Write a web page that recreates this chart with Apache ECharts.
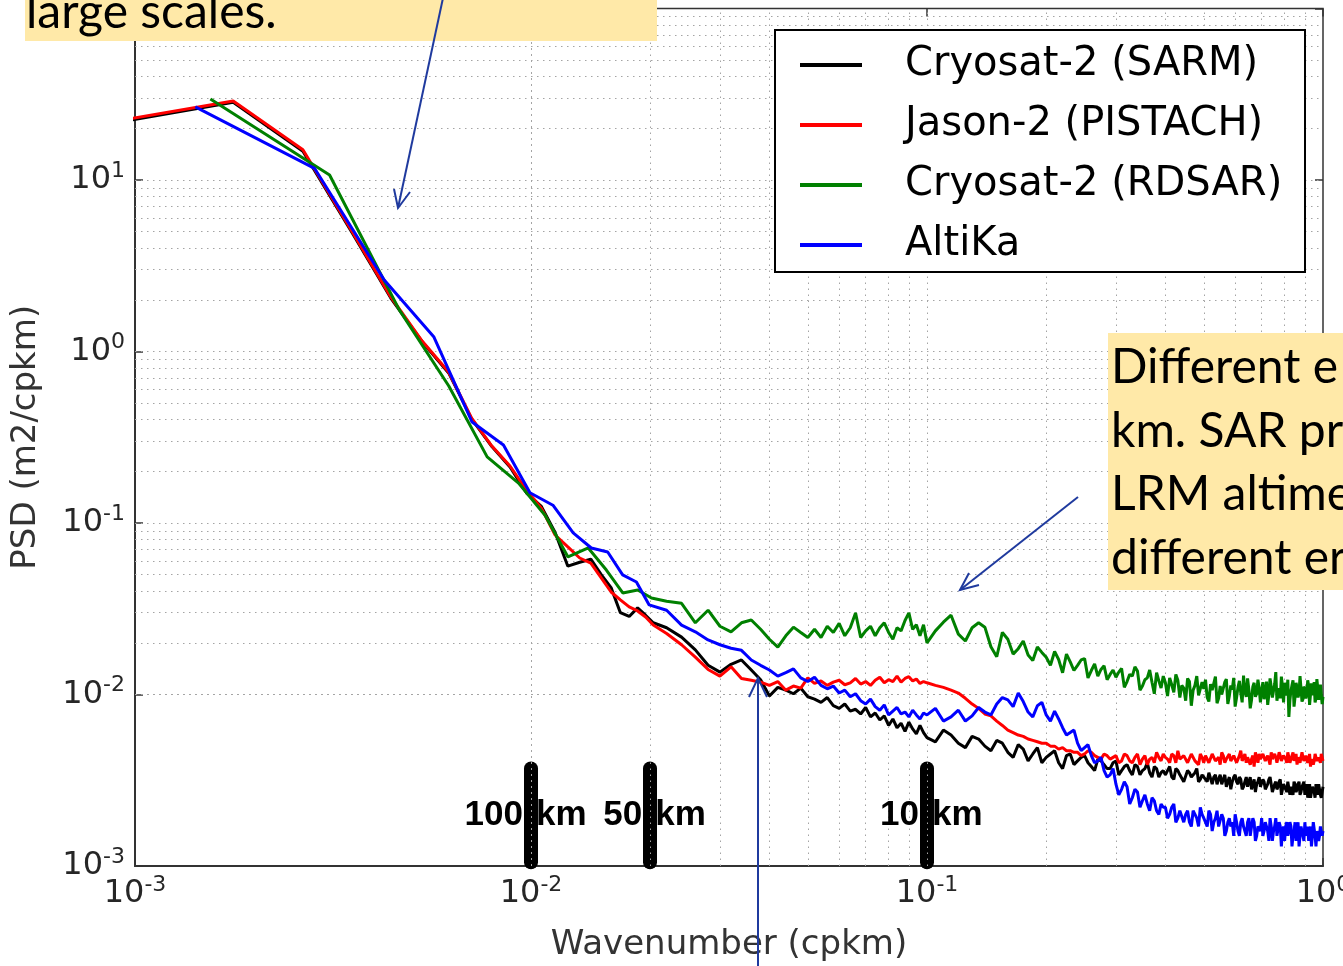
<!DOCTYPE html>
<html><head><meta charset="utf-8">
<script src="https://cdn.jsdelivr.net/npm/echarts@6/dist/echarts.min.js"></script>
<style>html,body{margin:0;padding:0;background:#fff}#c{width:1343px;height:966px}</style>
</head><body><div id="c"></div>
<script>
// ---------------- data ----------------
const seriesNames = ['Cryosat-2 (SARM)', 'Jason-2 (PISTACH)', 'Cryosat-2 (RDSAR)', 'AltiKa'];
const seriesColors = ['#000000', '#ff0000', '#008000', '#0000ff'];

// low-wavenumber spectral estimates (cpkm, m2/cpkm)
const sarmLowK = [0.000885,0.00177,0.002655,0.00354,0.004425,0.00531,0.006195,0.00708,0.007965,0.00885,0.009735,0.01062,0.011505,0.01239,0.013275,0.01416,0.015045,0.01593,0.016815,0.0177,0.018585,0.01947,0.020355];
const sarmLowPsd = [21.5,28.4,14.7,4.90,2.05,1.14,0.75,0.405,0.279,0.212,0.150,0.125,0.088,0.056,0.059,0.0615,0.050,0.042,0.030,0.0285,0.032,0.029,0.0262];
const jasonLowK = [0.000885,0.00177,0.002655,0.00354,0.004425,0.00531,0.006195,0.00708,0.007965,0.00885,0.009735,0.01062,0.011505,0.01239,0.013275,0.01416,0.015045,0.01593,0.016815,0.0177,0.018585,0.01947,0.020355];
const jasonLowPsd = [21.9,28.9,15.0,4.97,2.08,1.15,0.759,0.409,0.281,0.215,0.156,0.122,0.0851,0.0725,0.0625,0.0584,0.0478,0.0396,0.0356,0.0324,0.0307,0.0283,0.0254];
const rdsarLowK = [0.00155,0.0031,0.00465,0.0062,0.00775,0.0093,0.01085,0.0124,0.01395,0.0155,0.01705,0.0186,0.02015];
const rdsarLowPsd = [29.7,10.7,1.75,0.629,0.243,0.171,0.111,0.0634,0.0715,0.0532,0.0391,0.0407,0.0365];
const altikaLowK = [0.00142,0.00284,0.00426,0.00568,0.0071,0.00852,0.00994,0.01136,0.01278,0.0142,0.01562,0.01704,0.01846,0.01988];
const altikaLowPsd = [26.7,11.7,2.61,1.22,0.388,0.285,0.150,0.127,0.0875,0.0715,0.0678,0.0498,0.0453,0.0333];

// shared wavenumbers for the noisy tail
const kMid = [0.022,0.024,0.026,0.028,0.030,0.032,0.034,0.036,0.038,0.040,
  0.042,0.044,0.046,0.048,0.050,0.052,0.054,0.056,0.058,0.060,
  0.062,0.064,0.066,0.068,0.070,0.072,0.074,0.076,0.078,0.080,
  0.082,0.084,0.086,0.088,0.090,0.092,0.094,0.096,0.098];
const kHigh = [0.10,0.11,0.12,0.13,0.14,0.15,0.16,0.17,0.18,0.19,
  0.20,0.21,0.22,0.23,0.24,0.25,0.26,0.27,0.28,0.29,
  0.30,0.31,0.32,0.33,0.34,0.35,0.36,0.37,0.38,0.39,
  0.40,0.41,0.42,0.43,0.44,0.45,0.46,0.47,0.48,0.49,
  0.50,0.51,0.52,0.53,0.54,0.55,0.56,0.57,0.58,0.59,
  0.60,0.61,0.62,0.63,0.64,0.65,0.66,0.67,0.68,0.69,
  0.70,0.71,0.72,0.73,0.74,0.75,0.76,0.77,0.78,0.79,
  0.80,0.81,0.82,0.83,0.84,0.85,0.86,0.87,0.88,0.89,
  0.90,0.91,0.92,0.93,0.94,0.95,0.96,0.97,0.98,0.99,1.00];
const kHighHalf = [0.105,0.115,0.125,0.135,0.145,0.155,0.165,0.175,0.185,0.195,
  0.205,0.215,0.225,0.235,0.245,0.255,0.265,0.275,0.285,0.295,
  0.305,0.315,0.325,0.335,0.345,0.355,0.365,0.375,0.385,0.395,
  0.405,0.415,0.425,0.435,0.445,0.455,0.465,0.475,0.485,0.495,
  0.505,0.515,0.525,0.535,0.545,0.555,0.565,0.575,0.585,0.595,
  0.605,0.615,0.625,0.635,0.645,0.655,0.665,0.675,0.685,0.695,
  0.705,0.715,0.725,0.735,0.745,0.755,0.765,0.775,0.785,0.795,
  0.805,0.815,0.825,0.835,0.845,0.855,0.865,0.875,0.885,0.895,
  0.905,0.915,0.925,0.935,0.945,0.955,0.965,0.975,0.985,0.995];

const sarmMid = [0.0245,0.0216,0.0182,0.0148,0.0135,0.0150,0.0159,0.0139,0.0122,0.0098,
  0.0110,0.0106,0.0101,0.0109,0.0097,0.0094,0.0090,0.0096,0.0086,0.0083,
  0.0088,0.0080,0.0082,0.0077,0.0084,0.0074,0.0078,0.0071,0.0075,0.0066,
  0.0072,0.0064,0.0068,0.0061,0.0069,0.0063,0.0059,0.0066,0.0060];
const sarmHigh = [0.0056,0.0062,0.0052,0.0057,0.0050,0.0054,0.0046,0.0051,0.0041,0.0049,
  0.0043,0.0047,0.0037,0.0045,0.0041,0.0044,0.0038,0.0042,0.0039,0.0037,
  0.0041,0.0036,0.0039,0.0034,0.0038,0.0036,0.0040,0.0033,0.0037,0.0035,
  0.0034,0.0038,0.0032,0.0036,0.0034,0.0031,0.0035,0.0033,0.0037,0.0032,
  0.0034,0.0031,0.0035,0.0033,0.0030,0.0034,0.0032,0.0029,0.0033,0.0031,
  0.0034,0.0030,0.0032,0.0029,0.0033,0.0031,0.0028,0.0032,0.0030,0.0033,
  0.0029,0.0031,0.0028,0.0032,0.0030,0.0027,0.0031,0.0029,0.0032,0.0028,
  0.0030,0.0027,0.0031,0.0029,0.0026,0.0030,0.0028,0.0031,0.0027,0.0029,
  0.0026,0.0030,0.0028,0.0025,0.0029,0.0027,0.0030,0.0026,0.0028,0.0025,0.0029];
const sarmHighHalf = [0.0053,0.0058,0.0049,0.0055,0.0047,0.0052,0.0043,0.0048,0.0045,0.0040,
  0.0045,0.0040,0.0044,0.0039,0.0043,0.0040,0.0036,0.0041,0.0037,0.0040,
  0.0034,0.0038,0.0036,0.0039,0.0034,0.0037,0.0035,0.0038,0.0033,0.0036,
  0.0036,0.0033,0.0037,0.0034,0.0031,0.0036,0.0033,0.0035,0.0031,0.0034,
  0.0032,0.0035,0.0030,0.0034,0.0032,0.0030,0.0034,0.0031,0.0028,0.0033,
  0.0031,0.0033,0.0028,0.0031,0.0029,0.0033,0.0030,0.0027,0.0031,0.0029,
  0.0032,0.0028,0.0030,0.0033,0.0027,0.0030,0.0028,0.0031,0.0026,0.0030,
  0.0028,0.0031,0.0026,0.0029,0.0031,0.0027,0.0030,0.0026,0.0029,0.0031,
  0.0028,0.0025,0.0030,0.0027,0.0029,0.0025,0.0028,0.0030,0.0026,0.0027];

const jasonMid = [0.0227,0.0195,0.0165,0.0140,0.0128,0.0145,0.0124,0.0121,0.0118,0.0113,
  0.0119,0.0106,0.0112,0.0109,0.0125,0.0116,0.0120,0.0113,0.0118,0.0121,
  0.0114,0.0117,0.0124,0.0115,0.0119,0.0113,0.0121,0.0126,0.0117,0.0122,
  0.0119,0.0128,0.0118,0.0124,0.0127,0.0120,0.0123,0.0116,0.0119];
const jasonHigh = [0.0117,0.0110,0.0102,0.0088,0.0077,0.0070,0.0062,0.0058,0.0055,0.0053,
  0.0052,0.0050,0.0049,0.0047,0.0046,0.0045,0.0046,0.0043,0.0045,0.0042,
  0.0044,0.0041,0.0044,0.0040,0.0045,0.0042,0.0039,0.0043,0.0046,0.0041,
  0.0043,0.0040,0.0044,0.0047,0.0041,0.0043,0.0039,0.0044,0.0042,0.0045,
  0.0040,0.0043,0.0041,0.0046,0.0042,0.0039,0.0044,0.0042,0.0045,0.0040,
  0.0043,0.0041,0.0047,0.0042,0.0040,0.0044,0.0042,0.0038,0.0043,0.0045,
  0.0041,0.0044,0.0040,0.0043,0.0046,0.0041,0.0043,0.0039,0.0044,0.0042,
  0.0045,0.0040,0.0043,0.0041,0.0046,0.0042,0.0039,0.0044,0.0041,0.0043,
  0.0040,0.0045,0.0042,0.0038,0.0043,0.0041,0.0044,0.0040,0.0042,0.0045,0.0041];
const jasonHighHalf = [0.0113,0.0106,0.0095,0.0083,0.0075,0.0066,0.0060,0.0057,0.0054,0.0052,
  0.0050,0.0048,0.0047,0.0046,0.0044,0.0047,0.0044,0.0042,0.0044,0.0043,
  0.0040,0.0045,0.0041,0.0043,0.0039,0.0044,0.0042,0.0040,0.0043,0.0045,
  0.0042,0.0045,0.0040,0.0042,0.0044,0.0040,0.0045,0.0041,0.0039,0.0043,
  0.0044,0.0040,0.0045,0.0041,0.0043,0.0046,0.0040,0.0043,0.0041,0.0044,
  0.0040,0.0044,0.0041,0.0045,0.0043,0.0039,0.0044,0.0046,0.0040,0.0042,
  0.0045,0.0041,0.0044,0.0039,0.0042,0.0045,0.0040,0.0046,0.0041,0.0044,
  0.0042,0.0046,0.0040,0.0044,0.0041,0.0045,0.0043,0.0040,0.0046,0.0041,
  0.0044,0.0040,0.0045,0.0042,0.0039,0.0045,0.0041,0.0043,0.0040,0.0044];

const rdsarMid = [0.0350,0.0340,0.0262,0.0310,0.0250,0.0232,0.0262,0.0272,0.0240,0.0210,
  0.0189,0.0220,0.0247,0.0230,0.0215,0.0240,0.0215,0.0250,0.0230,0.0260,
  0.0220,0.0245,0.0299,0.0215,0.0235,0.0250,0.0220,0.0245,0.0262,0.0230,
  0.0210,0.0245,0.0235,0.0270,0.0299,0.0240,0.0255,0.0220,0.0255];
const rdsarHigh = [0.0200,0.0264,0.0225,0.0245,0.0247,0.0166,0.0210,0.0185,0.0170,0.0189,
  0.0165,0.0178,0.0134,0.0155,0.0148,0.0162,0.0138,0.0128,0.0147,0.0131,
  0.0126,0.0142,0.0119,0.0128,0.0137,0.0112,0.0125,0.0118,0.0134,0.0109,
  0.0117,0.0125,0.0103,0.0121,0.0113,0.0092,0.0119,0.0106,0.0128,0.0101,
  0.0108,0.0096,0.0115,0.0104,0.0089,0.0112,0.0099,0.0123,0.0098,0.0107,
  0.0085,0.0110,0.0102,0.0129,0.0097,0.0106,0.0093,0.0117,0.0101,0.0108,
  0.0106,0.0094,0.0119,0.0100,0.0111,0.0098,0.0135,0.0103,0.0095,0.0112,
  0.0117,0.0099,0.0074,0.0105,0.0121,0.0097,0.0110,0.0102,0.0126,0.0094,
  0.0108,0.0100,0.0113,0.0089,0.0106,0.0118,0.0095,0.0109,0.0101,0.0112,0.0097];
const rdsarHighHalf = [0.0235,0.0290,0.0205,0.0262,0.0190,0.0230,0.0172,0.0205,0.0158,0.0176,
  0.0148,0.0160,0.0172,0.0138,0.0159,0.0125,0.0151,0.0140,0.0122,0.0139,
  0.0135,0.0110,0.0131,0.0145,0.0106,0.0122,0.0139,0.0101,0.0120,0.0128,
  0.0098,0.0114,0.0131,0.0096,0.0109,0.0124,0.0086,0.0113,0.0099,0.0118,
  0.0122,0.0091,0.0106,0.0127,0.0095,0.0100,0.0118,0.0088,0.0113,0.0125,
  0.0096,0.0120,0.0090,0.0104,0.0124,0.0083,0.0111,0.0097,0.0122,0.0090,
  0.0118,0.0102,0.0087,0.0124,0.0096,0.0115,0.0092,0.0109,0.0127,0.0090,
  0.0104,0.0122,0.0093,0.0113,0.0085,0.0117,0.0096,0.0128,0.0091,0.0111,
  0.0095,0.0121,0.0087,0.0116,0.0099,0.0090,0.0123,0.0093,0.0114,0.0088];

const altikaMid = [0.0310,0.0254,0.0232,0.0208,0.0195,0.0186,0.0181,0.0159,0.0148,0.0139,
  0.0128,0.0134,0.0141,0.0125,0.0119,0.0126,0.0113,0.0108,0.0112,0.0102,
  0.0106,0.0097,0.0101,0.0092,0.0088,0.0094,0.0085,0.0081,0.0087,0.0076,
  0.0080,0.0084,0.0077,0.0079,0.0074,0.0081,0.0076,0.0072,0.0078];
const altikaHigh = [0.0076,0.0070,0.0081,0.0075,0.0079,0.0088,0.0093,0.0102,0.0079,0.0086,
  0.0076,0.0080,0.0064,0.0060,0.0052,0.0049,0.0044,0.0041,0.0036,0.0034,
  0.0030,0.0028,0.0029,0.0025,0.0027,0.0024,0.0023,0.0025,0.0021,0.0023,
  0.0022,0.0020,0.0023,0.0019,0.0021,0.0020,0.0018,0.0021,0.0019,0.0022,
  0.0019,0.0017,0.0020,0.0018,0.0021,0.0017,0.0019,0.0016,0.0019,0.0018,
  0.0020,0.0016,0.0018,0.0017,0.0015,0.0019,0.0017,0.0018,0.0015,0.0017,
  0.0019,0.0016,0.0018,0.0014,0.0017,0.0016,0.0019,0.0015,0.0017,0.0016,
  0.0014,0.0018,0.0016,0.0017,0.0015,0.0018,0.0016,0.0013,0.0017,0.0015,
  0.0018,0.0016,0.0014,0.0017,0.0015,0.0018,0.0013,0.0016,0.0015,0.0017,0.0016];
const altikaHighHalf = [0.0083,0.0074,0.0070,0.0084,0.0076,0.0096,0.0085,0.0091,0.0074,0.0090,
  0.0070,0.0072,0.0058,0.0062,0.0047,0.0051,0.0040,0.0043,0.0033,0.0037,
  0.0026,0.0031,0.0023,0.0028,0.0022,0.0026,0.0021,0.0024,0.0020,0.0022,
  0.0019,0.0022,0.0018,0.0021,0.0018,0.0021,0.0017,0.0020,0.0017,0.0020,
  0.0018,0.0021,0.0016,0.0019,0.0017,0.0020,0.0015,0.0018,0.0017,0.0015,
  0.0018,0.0015,0.0019,0.0016,0.0018,0.0015,0.0019,0.0014,0.0017,0.0016,
  0.0015,0.0018,0.0016,0.0019,0.0014,0.0017,0.0015,0.0018,0.0013,0.0017,
  0.0017,0.0015,0.0018,0.0013,0.0016,0.0014,0.0018,0.0015,0.0017,0.0014,
  0.0015,0.0017,0.0016,0.0013,0.0018,0.0015,0.0016,0.0014,0.0017,0.0015];

// axis extents and grid line positions
const xMin = 0.001, xMax = 1;
const yMin = 0.001, yMax = 100;
const xGridValues = [0.002,0.003,0.004,0.005,0.006,0.007,0.008,0.009,0.01,
  0.02,0.03,0.04,0.05,0.06,0.07,0.08,0.09,0.1,
  0.2,0.3,0.4,0.5,0.6,0.7,0.8,0.9];
const yGridValues = [0.002,0.003,0.004,0.005,0.006,0.007,0.008,0.009,0.01,
  0.02,0.03,0.04,0.05,0.06,0.07,0.08,0.09,0.1,
  0.2,0.3,0.4,0.5,0.6,0.7,0.8,0.9,1,
  2,3,4,5,6,7,8,9,10,
  20,30,40,50,60,70,80,90];

// scale markers (wavenumber of 100, 50, 10 km)
const scaleMarkK = [0.01, 0.02, 0.1];
const scaleMarkLabels = ['100 km', '50 km', '10 km'];
const scaleMarkTop = 0.0037, scaleMarkBottom = 0.00105, scaleLabelPsd = 0.00198;

// annotation texts
const noteTop = 'large scales.';
const noteRight = ['Different e', 'km. SAR pr', 'LRM altime', 'different er'];

// ---------------- build ----------------
function pairs(k, v) { return k.map((x, i) => [x, v[i]]); }
function build(lowK, lowV, mid, high, half) {
  const tail = pairs(kHigh, high).concat(pairs(kHighHalf, half)).sort((a, b) => a[0] - b[0]);
  return pairs(lowK, lowV).concat(pairs(kMid, mid), tail);
}
const seriesData = [
  build(sarmLowK, sarmLowPsd, sarmMid, sarmHigh, sarmHighHalf),
  build(jasonLowK, jasonLowPsd, jasonMid, jasonHigh, jasonHighHalf),
  build(rdsarLowK, rdsarLowPsd, rdsarMid, rdsarHigh, rdsarHighHalf),
  build(altikaLowK, altikaLowPsd, altikaMid, altikaHigh, altikaHighHalf)
];

const FONT = 'DejaVu Sans';
const TXT = '#262626';
function expLabel(v) {
  const e = Math.round(Math.log10(v));
  return '{b|10}{s|' + e + '}';
}
const richLabel = {
  b: { fontSize: 32, fontFamily: FONT, color: TXT, lineHeight: 40 },
  s: { fontSize: 22, fontFamily: FONT, color: TXT, lineHeight: 16, verticalAlign: 'top' }
};

const lineSeries = seriesNames.map((n, i) => ({
  name: n, type: 'line', data: seriesData[i], showSymbol: false, symbol: 'none',
  lineStyle: { color: seriesColors[i], width: 3 }, itemStyle: { color: seriesColors[i] },
  z: 5, silent: true, animation: false, clip: true
}));

const markLabelStyle = { fontSize: 35, fontWeight: 'bold', fontFamily: 'Liberation Sans', color: '#000', opacity: 1 };
const helperSeries = [
  { // thick scale markers
    name: '_bars', type: 'line', data: [], silent: true, z: 1, animation: false,
    markLine: {
      silent: true, symbol: ['none', 'none'], animation: false, label: { show: false },
      lineStyle: { color: '#000', width: 14, type: 'solid', cap: 'round' },
      data: scaleMarkK.map(k => [{ coord: [k, scaleMarkTop] }, { coord: [k, scaleMarkBottom] }])
    }
  },
  { // dotted grid
    name: '_grid', type: 'line', data: [], silent: true, z: 1, animation: false,
    markLine: {
      silent: true, symbol: ['none', 'none'], animation: false, label: { show: false },
      lineStyle: { color: '#a4a4a4', width: 1, type: [1.5, 4.5] },
      data: xGridValues.map(v => ({ xAxis: v })).concat(yGridValues.map(v => ({ yAxis: v })))
    }
  },
  { // scale-marker numbers
    name: '_num', type: 'scatter', symbol: 'circle', symbolSize: 2, itemStyle: { color: 'rgba(0,0,0,0)' },
    silent: true, z: 6, animation: false,
    data: scaleMarkK.map((k, i) => [k, scaleLabelPsd, scaleMarkLabels[i].split(' ')[0]]),
    label: Object.assign({ show: true, position: 'left', distance: 7, formatter: p => p.value[2] }, markLabelStyle)
  },
  { // scale-marker units
    name: '_unit', type: 'scatter', symbol: 'circle', symbolSize: 2, itemStyle: { color: 'rgba(0,0,0,0)' },
    silent: true, z: 6, animation: false,
    data: scaleMarkK.map((k, i) => [k, scaleLabelPsd, scaleMarkLabels[i].split(' ')[1]]),
    label: Object.assign({ show: true, position: 'right', distance: 4, formatter: p => p.value[2] }, markLabelStyle)
  }
];

const ARROW = '#1f3a9e';
function arrow(x1, y1, x2, y2, w1, w2) {
  return [
    { type: 'polyline', z: 20, shape: { points: [[x1, y1], [x2, y2]] }, style: { stroke: ARROW, lineWidth: 2, fill: null } },
    { type: 'polyline', z: 20, shape: { points: [w1, [x2, y2], w2] }, style: { stroke: ARROW, lineWidth: 2, fill: null } }
  ];
}

const option = {
  backgroundColor: '#ffffff',
  animation: false,
  grid: { left: 135, right: 20, top: 8.5, bottom: 100, show: true, borderColor: '#333', borderWidth: 1.5,
    backgroundColor: 'transparent', containLabel: false, outerBoundsMode: 'none' },
  xAxis: [{
    type: 'log', logBase: 10, min: xMin, max: xMax,
    name: 'Wavenumber (cpkm)', nameLocation: 'middle', nameGap: 62,
    nameTextStyle: { fontSize: 34, fontFamily: FONT, color: '#333' },
    axisLine: { show: true, lineStyle: { color: '#333', width: 2 } },
    axisTick: { show: true, inside: true, length: 8, lineStyle: { color: '#333', width: 1.5 } },
    splitLine: { show: false }, minorTick: { show: false },
    axisLabel: { formatter: expLabel, rich: richLabel, margin: 8, color: TXT }
  }, {
    type: 'log', logBase: 10, min: xMin, max: xMax, position: 'top',
    axisLine: { show: false }, axisLabel: { show: false }, splitLine: { show: false },
    axisTick: { show: true, inside: true, length: 8, lineStyle: { color: '#333', width: 1.5 } }
  }],
  yAxis: [{
    type: 'log', logBase: 10, min: yMin, max: yMax,
    name: 'PSD (m2/cpkm)', nameLocation: 'middle', nameGap: 92, nameRotate: 90,
    nameTextStyle: { fontSize: 34, fontFamily: FONT, color: '#333' },
    axisLine: { show: true, lineStyle: { color: '#333', width: 2 } },
    axisTick: { show: true, inside: true, length: 8, lineStyle: { color: '#333', width: 1.5 } },
    splitLine: { show: false }, minorTick: { show: false },
    axisLabel: { formatter: expLabel, rich: richLabel, margin: 10, color: TXT }
  }, {
    type: 'log', logBase: 10, min: yMin, max: yMax, position: 'right',
    axisLine: { show: false }, axisLabel: { show: false }, splitLine: { show: false },
    axisTick: { show: true, inside: true, length: 8, lineStyle: { color: '#333', width: 1.5 } }
  }],
  legend: {
    data: seriesNames, orient: 'vertical', left: 800, top: 45, padding: 0,
    icon: 'rect', itemWidth: 62, itemHeight: 4, itemGap: 20, selectedMode: false, z: 8,
    textStyle: { fontSize: 40, fontFamily: FONT, color: '#000', lineHeight: 40, padding: [0, 0, 0, 38] }
  },
  graphic: [
    { type: 'rect', z: 7, shape: { x: 775, y: 30, width: 530, height: 242 }, style: { fill: '#ffffff', stroke: '#000', lineWidth: 2 } },
    { type: 'rect', z: 18, shape: { x: 25, y: -10, width: 632, height: 51 }, style: { fill: '#FFE9A8' } },
    { type: 'text', z: 19, x: 26, y: 13, style: { text: noteTop, font: '48px Lato', fill: '#000', verticalAlign: 'middle' } },
    { type: 'rect', z: 18, shape: { x: 1108, y: 333, width: 260, height: 257 }, style: { fill: '#FFE9A8' } },
    { type: 'text', z: 19, x: 1111, y: 336, style: { text: noteRight.join('\n'), font: '48px Lato', fill: '#000', lineHeight: 63.5, verticalAlign: 'top' } }
  ].concat(
    arrow(443, -2, 398, 208, [394, 189], [410, 192]),
    arrow(1078, 497, 960, 590, [969, 573], [979, 585]),
    arrow(758, 970, 758, 678, [749, 697], [767, 697])
  ),
  series: helperSeries.concat(lineSeries)
};

const chart = echarts.init(document.getElementById('c'), null, { renderer: 'canvas' });
chart.setOption(option);
</script></body></html>
